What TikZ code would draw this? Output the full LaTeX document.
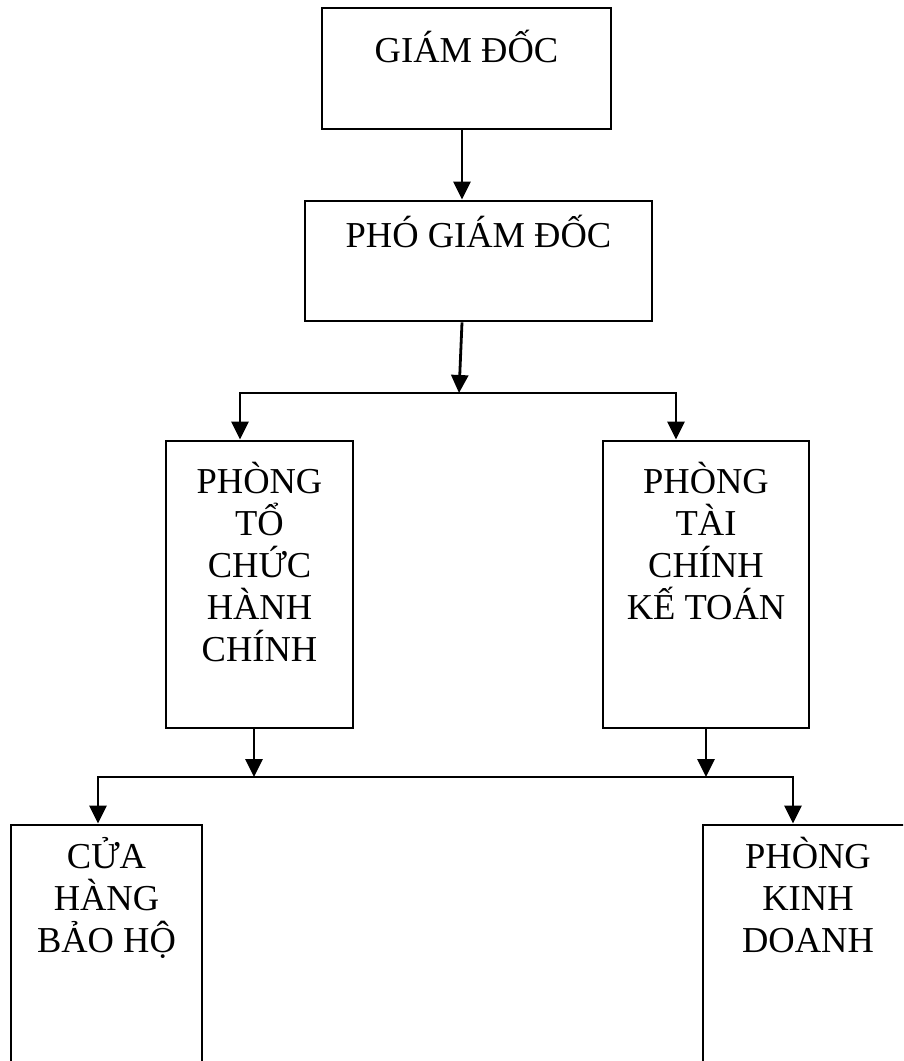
\documentclass[tikz,border=0pt]{standalone}
\usepackage{fontspec}
\setmainfont{Liberation Serif}
\usetikzlibrary{arrows.meta}
\newcommand{\boxlines}[1]{\parbox[t]{200pt}{\centering #1}}
\tikzset{
  box/.style={draw, rectangle, line width=2.8pt, inner sep=0pt},
  boxtext/.style={anchor=base, inner sep=0pt, font=\fontsize{36.5}{42}\selectfont},
  arr/.style={-{Triangle[width=17pt,length=18pt]}, line width=2.8pt},
  bus/.style={line width=2.8pt, line cap=rect}
}
\begin{document}
\begin{tikzpicture}[x=1pt,y=-1pt]
  \useasboundingbox (0,0) rectangle (903,1061);
  \clip (0,0) rectangle (903,1061);

  % boxes
  \node[box, minimum width=289pt, minimum height=121pt] (gd) at (466.5,68.5) {};
  \node[box, minimum width=347pt, minimum height=120pt] (pgd) at (478.5,261) {};
  \node[box, minimum width=187pt, minimum height=287pt] (tc) at (259.5,584.5) {};
  \node[box, minimum width=206pt, minimum height=287pt] (tk) at (706,584.5) {};
  \node[box, minimum width=191pt, minimum height=275pt] (ch) at (106.5,962.5) {};
  \node[box, minimum width=210pt, minimum height=275pt] (kd) at (808,962.5) {};

  % texts
  \node[boxtext] (gdt) at ([yshift=-56pt]gd.north) {GIÁM ĐỐC};
  \node[boxtext] (pgdt) at ([yshift=-48pt]pgd.north) {PHÓ GIÁM ĐỐC};
  \node[boxtext] (tct) at ([yshift=-54pt]tc.north) {\boxlines{PHÒNG\\TỔ\\CHỨC\\HÀNH\\CHÍNH}};
  \node[boxtext] (tkt) at ([yshift=-54pt]tk.north) {\boxlines{PHÒNG\\TÀI\\CHÍNH\\KẾ TOÁN}};
  \node[boxtext] (cht) at ([yshift=-45pt]ch.north) {\boxlines{CỬA\\HÀNG\\BẢO HỘ}};
  \node[boxtext] (kdt) at ([yshift=-45pt]kd.north) {\boxlines{PHÒNG\\KINH\\DOANH}};

  % junctions
  \coordinate (j1) at (459,393);
  \coordinate (j1l) at (240,393);
  \coordinate (j1r) at (676,393);
  \coordinate (j2l) at (98,777);
  \coordinate (j2r) at (793,777);

  % connectors
  \draw[arr] ([xshift=-4.5pt]gd.south) -- ([xshift=-4.5pt]gd.south |- pgd.north);
  \draw[arr] ([xshift=-16.5pt]pgd.south) -- (j1);
  \draw[bus] (j1l) -- (j1r);
  \draw[arr] (j1l) -- (j1l |- tc.north);
  \draw[arr] (j1r) -- (j1r |- tk.north);

  \draw[arr] ([xshift=-5.5pt]tc.south) -- ([xshift=-5.5pt]tc.south |- j2l);
  \draw[arr] (tk.south) -- (tk.south |- j2l);
  \draw[bus] (j2l) -- (j2r);
  \draw[arr] (j2l) -- (j2l |- ch.north);
  \draw[arr] (j2r) -- (j2r |- kd.north);
\end{tikzpicture}
\end{document}
